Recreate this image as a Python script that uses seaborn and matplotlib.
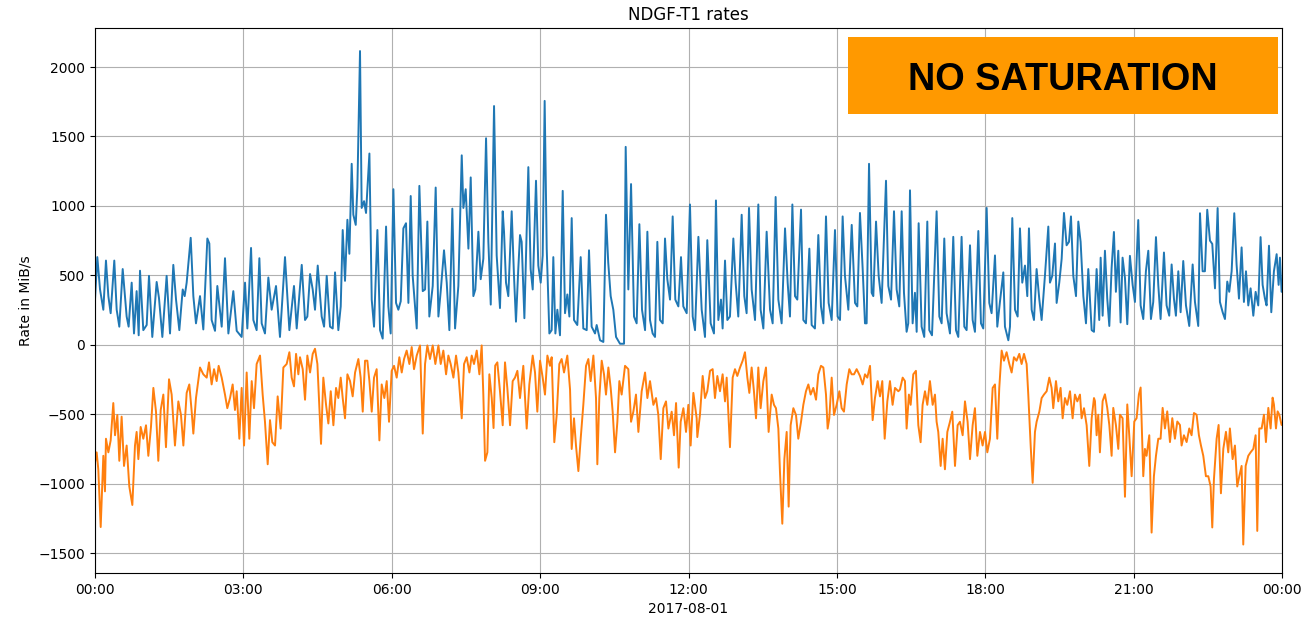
import numpy as np
import pandas as pd
import matplotlib
matplotlib.use("Agg")
import matplotlib.pyplot as plt
import matplotlib.dates as mdates
from matplotlib.patches import Rectangle
import seaborn as sns

# ---- data: (minutes after 2017-08-01 00:00, rate in MiB/s) ----
day_start = "2017-08-01 00:00"
title_text = "NDGF-T1 rates"
x_label = "2017-08-01"
y_label = "Rate in MiB/s"
badge_text = "NO SATURATION"
y_ticks = [-1500, -1000, -500, 0, 500, 1000, 1500, 2000]

blue_rates = [
    (0, 325), (2.8, 631), (6.1, 398), (10.1, 252), (13.3, 606), (16.2, 350), (19.0, 227), (23.4, 606),
    (26.3, 252), (29.5, 130), (33.6, 545), (38.4, 203), (40.8, 130), (44.5, 447), (47.3, 81), (50.5, 386),
    (53.0, 68), (54.6, 533), (58.6, 105), (62.7, 142), (65.5, 496), (69.5, 56), (74.8, 452), (77.6, 337),
    (81.7, 56), (86.9, 496), (91.0, 81), (95.0, 575), (98.3, 325), (102.3, 105), (106.4, 398), (108.8, 350),
    (111.2, 447), (116.1, 770), (119.3, 350), (122.5, 154), (127.4, 350), (131.4, 110), (136.3, 765),
    (138.7, 729), (141.5, 178), (145.6, 100), (148.4, 423), (153.7, 130), (157.7, 623), (161.8, 81),
    (167.8, 386), (171.9, 100), (177.9, 56), (182.0, 447), (184.8, 117), (189.3, 697), (192.1, 178),
    (196.1, 105), (199.4, 623), (202.2, 154), (206.2, 81), (210.3, 484), (214.3, 252), (219.6, 423),
    (224.4, 56), (230.5, 631), (235.8, 105), (241.4, 423), (244.7, 117),
    (250.8, 575), (254.8, 178), (257.6, 203), (260.9, 509), (264.1, 398), (266.9, 252), (270.2, 570),
    (275.0, 203), (277.9, 130), (281.1, 496), (285.1, 130), (288.4, 117), (291.2, 521), (295.2, 105),
    (298.1, 276), (300.5, 826), (303.3, 460), (306.2, 900), (308.6, 655), (311.4, 1303), (313.4, 936),
    (316.3, 863), (318.3, 1132), (321.5, 2115), (323.5, 985), (326.4, 1034), (328.8, 949), (330.8, 1157),
    (332.9, 1377), (335.7, 325), (338.5, 130), (342.6, 826), (345.8, 105), (349.0, 44), (353.1, 851),
    (355.9, 276), (358.7, 81), (362.0, 1120), (365.2, 301), (368.0, 252), (370.9, 313), (374.1, 838),
    (377.3, 875), (380.2, 301), (383.0, 1071), (385.4, 496), (390.3, 117), (393.5, 1144), (397.6, 386),
    (400.4, 398), (403.2, 887), (405.6, 203), (409.7, 423), (413.3, 1132), (416.6, 203), (419.4, 386),
    (423.4, 680), (426.7, 447), (429.9, 105), (433.5, 980), (436.8, 117), (440.8, 423), (444.9, 1364),
    (446.9, 985), (449.7, 1120), (453.0, 692), (455.8, 1205), (459.0, 350), (461.4, 398), (465.1, 814),
    (467.9, 472), (471.1, 619), (474.4, 1487), (477.2, 741), (480.1, 289), (484.1, 1719), (487.3, 643),
    (491.3, 264), (494.6, 961), (496.2, 814), (498.6, 447), (501.4, 350), (505.5, 961), (508.3, 496),
    (510.7, 166), (513.5, 545), (515.6, 790), (517.6, 741), (520.9, 191), (525.7, 1279), (528.5, 545),
    (531.0, 398), (535.0, 1181), (537.8, 570), (540.7, 447), (543.1, 643), (545.5, 1756), (548.0, 692),
    (551.2, 81), (554.0, 105), (556.0, 631), (558.5, 81), (560.9, 252), (564.1, 68), (567.4, 1108),
    (570.2, 227), (573.0, 362), (575.5, 203), (578.3, 912), (581.1, 178), (585.1, 142), (589.2, 631),
    (592.4, 117), (596.5, 105), (599.3, 680), (602.5, 130), (606.6, 81), (608.6, 142), (612.7, 32),
    (616.7, 20), (619.9, 936), (622.6, 594), (625.6, 350), (628.8, 252), (632.1, 56), (636.9, 7),
    (641.8, 7), (643.8, 1425), (647.0, 398), (650.3, 1157), (653.9, 203), (657.1, 154), (660.4, 868),
    (663.6, 252), (667.3, 105), (670.1, 814), (673.3, 178), (676.5, 81), (679.4, 56), (682.2, 741),
    (685.4, 178), (688.7, 154), (691.5, 765), (694.3, 472), (697.6, 325), (700.8, 924), (704.0, 325),
    (707.7, 276), (710.9, 631), (713.7, 276), (717.8, 227), (721.8, 1010), (725.1, 203), (727.9, 105),
    (732.0, 777),
    (736.0, 252), (740.0, 56), (742.8, 753), (746.9, 154), (750.9, 81), (753.3, 1039), (756.2, 178),
    (759.4, 325), (761.4, 117), (764.3, 606), (767.1, 178), (770.3, 203), (774.4, 765), (777.2, 447),
    (780.4, 203), (784.5, 936), (787.7, 350), (790.5, 227), (793.4, 985), (796.6, 398), (800.7, 178),
    (804.7, 1010), (807.5, 252), (810.8, 117), (814.8, 814), (818.9, 252), (822.1, 154), (825.7, 1064),
    (829.0, 325), (833.0, 154), (837.1, 838), (840.3, 447), (843.1, 203), (846.0, 1010), (849.2, 350),
    (852.0, 325), (856.5, 973), (859.3, 178), (862.5, 154), (866.6, 692), (869.4, 142), (873.4, 117),
    (877.5, 790), (880.7, 276), (883.6, 154), (886.8, 924), (890.0, 301), (893.7, 178), (897.7, 826),
    (900.9, 203), (903.8, 178), (907.0, 924), (909.8, 496), (913.9, 252), (918.0, 863), (922.0, 301),
    (924.8, 276), (928.0, 949), (931.3, 545), (934.1, 154), (936.1, 154), (939.0, 1303), (942.2, 374),
    (944.2, 350), (947.5, 887), (950.7, 496), (954.3, 301), (959.6, 1181), (962.4, 423), (965.7, 325),
    (969.3, 961), (972.5, 398),
    (975.7, 276), (978.6, 961), (981.4, 374), (984.6, 93), (986.6, 154), (988.7, 1112), (991.9, 154),
    (994.7, 374), (996.8, 93), (999.2, 875), (1002.8, 130), (1006.0, 56), (1009.7, 887), (1012.1, 105),
    (1015.4, 68), (1021.0, 961), (1024.3, 203), (1027.1, 154), (1030.3, 765), (1033.1, 227), (1037.2, 81),
    (1041.2, 777), (1044.5, 105), (1047.3, 56), (1051.3, 777), (1054.6, 130), (1057.4, 105), (1061.5, 716),
    (1064.7, 178), (1067.5, 93), (1071.6, 819), (1074.8, 154), (1077.6, 117), (1081.7, 985), (1084.9, 301),
    (1087.7, 227), (1091.8, 643), (1094.6, 130), (1097.9, 313), (1101.9, 521), (1103.9, 130), (1108.0, 32),
    (1110.0, 130), (1112.8, 912), (1116.1, 252), (1119.3, 203), (1122.1, 838), (1124.9, 447), (1128.2, 570),
    (1131.0, 350), (1133.0, 838), (1136.3, 252), (1139.1, 178), (1142.3, 545), (1145.6, 325), (1148.4, 178),
    (1152.4, 496), (1156.5, 851), (1158.5, 447), (1161.3, 496), (1164.6, 729), (1166.6, 301), (1169.8, 447),
    (1172.7, 619), (1175.5, 949), (1178.7, 716), (1181.6, 741), (1184.0, 924), (1186.8, 496), (1190.1, 350),
    (1192.9, 887), (1195.7, 741), (1199.0, 350), (1202.2, 154), (1205.0, 545), (1209.1, 105), (1211.9, 93),
    (1215.1, 545), (1218.3, 178),
    (1220.0, 627), (1222.4, 209), (1225.2, 677), (1228.0, 332), (1230.5, 135), (1233.3, 554), (1236.1, 812),
    (1238.5, 381), (1241.4, 677), (1244.2, 160), (1246.6, 627), (1249.5, 480), (1252.3, 148), (1255.5, 640),
    (1258.8, 431), (1261.6, 308), (1265.6, 898), (1268.5, 283), (1271.7, 185), (1274.9, 529), (1277.8, 677),
    (1281.0, 185), (1283.8, 308), (1287.1, 775), (1289.9, 431), (1292.7, 185), (1296.8, 664), (1300.0, 283),
    (1303.2, 209), (1306.1, 578), (1308.9, 332), (1311.3, 209), (1314.2, 529), (1317.0, 234), (1320.2, 603),
    (1323.5, 283), (1327.5, 135), (1331.6, 578), (1334.4, 308), (1338.4, 135), (1340.5, 947), (1343.7, 529),
    (1346.5, 529), (1349.3, 972), (1352.6, 750), (1355.4, 726), (1358.7, 406), (1361.9, 984), (1364.7, 308),
    (1368.0, 234), (1370.8, 185), (1373.6, 455), (1376.0, 381), (1378.9, 529), (1382.1, 947), (1384.9, 578),
    (1387.8, 332), (1391.0, 701), (1393.8, 308), (1396.3, 529), (1399.1, 283), (1401.9, 406), (1405.2, 209),
    (1408.0, 381), (1411.2, 283), (1414.0, 775), (1416.5, 431), (1419.3, 332), (1421.3, 283), (1424.2, 713),
    (1427.0, 234), (1430.2, 529), (1433.5, 652), (1435.9, 431), (1437.5, 627), (1439.5, 381),
]

orange_rates = [
    (0, -848), (2.0, -775), (4.0, -897), (6.9, -1313), (10.1, -800), (12.1, -1056), (13.3, -677),
    (16.2, -775), (19.0, -689), (22.2, -420), (24.3, -652), (27.1, -506), (29.5, -836), (32.3, -518),
    (35.2, -873), (38.4, -726), (41.6, -1020), (45.3, -1154), (48.5, -726), (50.5, -628), (52.6, -824),
    (55.4, -592), (58.6, -677), (61.9, -580), (64.7, -800), (67.9, -592), (70.8, -311), (74.0, -482),
    (76.8, -836), (79.7, -470), (82.9, -359), (86.1, -738), (89.8, -249), (93.0, -359), (97.0, -726),
    (101.1, -408), (104.3, -506), (107.2, -726), (111.2, -347), (114.4, -286), (117.3, -482), (119.3, -640),
    (122.5, -384), (127.4, -164), (131.4, -213), (135.5, -237), (138.3, -127), (141.5, -286), (144.4, -176),
    (147.6, -262), (150.0, -152), (153.7, -237), (157.7, -359), (160.5, -457), (163.8, -384), (167.0, -286),
    (169.8, -470), (171.9, -335), (175.1, -677), (177.9, -311), (180.8, -726), (184.0, -200), (187.2, -677),
    (190.1, -262), (192.9, -457), (196.1, -139), (200.2, -78), (203.4, -359), (206.2, -555), (209.5, -861),
    (212.3, -543), (215.1, -702), (218.4, -726), (221.6, -372), (225.2, -604), (228.5, -164), (232.5, -139),
    (235.8, -54), (238.6, -237), (241.4, -300),
    (243.9, -66), (246.7, -213), (248.7, -90), (252.0, -176), (254.8, -396), (257.6, -78), (260.9, -200),
    (264.1, -66), (266.9, -29), (269.8, -139), (272.2, -457), (274.2, -714), (277.0, -237), (280.3, -433),
    (283.1, -567), (286.0, -335), (289.2, -580), (292.4, -311), (295.2, -384), (298.1, -237), (300.5, -384),
    (303.3, -530), (306.2, -213), (309.4, -262), (312.6, -372), (315.5, -200), (319.5, -103), (322.3, -237),
    (324.8, -482), (327.6, -115), (330.4, -115), (332.9, -262), (335.7, -482), (338.5, -237), (341.7, -176),
    (345.0, -689), (347.8, -286), (351.0, -384), (353.9, -262), (356.7, -555), (359.9, -188), (362.8, -152),
    (366.0, -237), (369.2, -90), (372.1, -200), (374.9, -103), (378.1, -42), (381.4, -139), (384.2, -17),
    (387.0, -176), (390.3, -78), (394.3, -5), (397.6, -640), (400.4, -139), (403.2, -5), (406.4, -103),
    (409.7, -5), (412.9, -139), (416.6, -5), (419.4, -139), (422.6, -42), (425.9, -213), (428.7, -78),
    (431.5, -139), (434.8, -237), (438.0, -78), (440.8, -200), (444.9, -530), (447.7, -139), (450.9, -90),
    (454.2, -200), (457.0, -78), (459.8, -139), (463.1, -42), (466.3, -213), (469.1, -5), (471.1, -359),
    (473.2, -836), (476.0, -775), (478.4, -213), (481.3, -384), (483.5, -600), (485.5, -150),
    (488.1, -127), (491.3, -335), (494.6, -580), (497.4, -127), (500.2, -311), (503.5, -580), (506.7, -262),
    (509.5, -237), (512.4, -188), (515.6, -384), (519.6, -152), (523.7, -604), (526.9, -286), (531.0, -78),
    (533.8, -200), (536.6, -482), (539.9, -115), (543.1, -237), (545.9, -359), (548.8, -78), (552.0, -152),
    (554.0, -90), (557.2, -702), (560.1, -506), (563.3, -139), (566.1, -103), (569.0, -200), (573.0, -78),
    (576.3, -323), (578.3, -751), (581.1, -530), (583.5, -726), (586.4, -910), (589.2, -677), (592.4, -433),
    (595.7, -152), (598.5, -103), (601.3, -262), (604.6, -78), (607.8, -384), (609.4, -861), (611.8, -384),
    (614.7, -115), (617.5, -213), (619.9, -359), (622.8, -164), (625.6, -311), (628.0, -482), (630.9, -775),
    (633.7, -555), (636.1, -262), (638.9, -359), (643.0, -152), (647.0, -176), (650.3, -555), (653.1, -482),
    (656.3, -359), (659.2, -628), (663.2, -335), (667.3, -200), (670.1, -384), (673.3, -262), (677.4, -433),
    (680.6, -384), (683.4, -506), (686.3, -824), (689.5, -457), (692.7, -408), (695.6, -604), (699.6, -482),
    (702.4, -652), (704.9, -420), (708.1, -885), (710.5, -555), (713.8, -457), (717.0, -628), (719.8, -433),
    (722.6, -726), (725.9, -347), (729.9, -530),
    (730.7, -665), (733.9, -506), (737.2, -225), (740.0, -384), (742.8, -335), (746.1, -188), (749.3, -176),
    (752.1, -384), (755.0, -225), (758.2, -335), (761.4, -213), (764.3, -408), (766.3, -237), (770.3, -738),
    (773.6, -237), (776.4, -176), (779.2, -225), (782.5, -164), (785.7, -115), (788.5, -54), (791.4, -237),
    (793.8, -347), (796.6, -164), (799.4, -335), (801.9, -530), (804.7, -164), (807.5, -457), (810.8, -262),
    (814.0, -164), (817.2, -628), (820.9, -359), (823.7, -433), (826.1, -457), (829.0, -604), (831.0, -922),
    (833.8, -1289), (836.3, -824), (839.1, -628), (841.5, -1166), (843.9, -580), (847.2, -457), (850.4, -506),
    (853.2, -677), (856.5, -555), (859.3, -433), (862.5, -335), (865.4, -286), (868.2, -359), (871.4, -311),
    (874.7, -396), (877.5, -213), (880.7, -152), (883.6, -164), (886.8, -359), (888.8, -604), (890.8, -530),
    (893.7, -237), (896.5, -506), (899.7, -433), (903.0, -335), (905.8, -457), (908.6, -482), (911.9, -286),
    (915.1, -176), (917.9, -213), (920.8, -213), (924.0, -176), (928.0, -225), (931.3, -286), (934.1, -213),
    (936.9, -237), (940.2, -152), (943.4, -543), (946.2, -384), (949.5, -262), (952.3, -372), (955.1, -262),
    (958.0, -677), (961.2, -408), (964.4, -262), (967.6, -433), (970.5, -311), (974.6, -335),
    (976.5, -323), (979.8, -237), (982.6, -262), (984.6, -604), (987.4, -359), (989.5, -433), (992.7, -213),
    (995.9, -188), (998.8, -580), (1001.6, -702), (1004.0, -433), (1006.9, -335), (1009.7, -433),
    (1012.9, -262), (1016.2, -433), (1019.0, -359), (1021.0, -555), (1023.0, -628), (1025.9, -873),
    (1028.3, -677), (1031.1, -897), (1034.0, -628), (1037.2, -555), (1040.0, -482), (1043.3, -873),
    (1046.5, -580), (1049.3, -555), (1052.6, -652), (1055.4, -408), (1058.6, -555), (1061.5, -824),
    (1064.7, -580), (1067.5, -457), (1070.4, -800), (1073.6, -628), (1076.8, -726), (1079.7, -628),
    (1082.5, -775), (1085.7, -677), (1089.0, -311), (1091.8, -286), (1094.6, -677), (1097.0, -311),
    (1099.9, -42), (1102.7, -115), (1105.9, -54), (1109.2, -139), (1112.0, -200), (1114.8, -90),
    (1118.0, -115), (1121.3, -66), (1124.1, -139), (1127.0, -66), (1130.2, -139), (1132.2, -359),
    (1135.1, -726), (1137.5, -995), (1140.3, -628), (1142.3, -555), (1145.6, -482), (1148.4, -384),
    (1151.2, -359), (1154.5, -335), (1157.7, -237), (1160.5, -311), (1162.5, -457), (1165.8, -262),
    (1168.6, -408), (1171.4, -311), (1173.9, -530), (1176.7, -384), (1179.5, -433), (1182.8, -335),
    (1186.0, -530), (1188.8, -359), (1191.7, -408), (1194.9, -359), (1196.9, -530), (1199.8, -457),
    (1203.0, -580), (1206.2, -873), (1209.1, -530), (1211.9, -384),
    (1213.1, -406), (1215.1, -652), (1217.1, -504), (1219.1, -775), (1222.4, -406), (1225.2, -357),
    (1228.0, -455), (1230.5, -578), (1233.3, -800), (1235.3, -455), (1238.5, -578), (1241.4, -750),
    (1243.4, -504), (1246.6, -529), (1249.5, -1095), (1252.3, -430), (1254.7, -652), (1257.6, -947),
    (1260.8, -553), (1263.6, -529), (1266.4, -357), (1268.5, -308), (1271.7, -947), (1273.7, -750),
    (1275.7, -800), (1279.0, -652), (1281.8, -1353), (1284.6, -947), (1287.1, -800), (1289.9, -677),
    (1292.7, -677), (1295.2, -455), (1298.0, -603), (1300.8, -480), (1304.1, -701), (1306.9, -529),
    (1310.1, -677), (1313.0, -553), (1316.2, -578), (1318.2, -726), (1321.0, -652), (1324.3, -701),
    (1327.5, -603), (1330.3, -652), (1333.2, -492), (1336.4, -504), (1339.2, -652), (1341.7, -726),
    (1344.5, -800), (1347.7, -947), (1350.6, -947), (1353.4, -1021), (1355.4, -1316), (1357.4, -972),
    (1360.7, -677), (1363.1, -578), (1365.9, -1070), (1368.8, -750), (1372.0, -627), (1374.8, -775),
    (1376.8, -603), (1380.1, -824), (1382.9, -726), (1385.7, -1021), (1388.2, -947), (1391.0, -873),
    (1393.0, -1439), (1395.9, -873), (1399.1, -800), (1401.9, -775), (1405.2, -750), (1408.0, -652),
    (1410.0, -1341), (1412.4, -603), (1415.3, -603), (1418.1, -504), (1420.5, -701), (1423.4, -455),
    (1426.2, -603), (1428.6, -381), (1430.2, -430), (1432.7, -603), (1434.7, -480), (1436.7, -504),
    (1439.5, -578),
]

# ---- build frames ----
base = pd.Timestamp(day_start)


def to_frame(pairs):
    arr = np.array(pairs, dtype=float)
    return pd.DataFrame({"time": base + pd.to_timedelta(arr[:, 0], unit="m"),
                         "rate": arr[:, 1]})


df_blue = to_frame(blue_rates)
df_orange = to_frame(orange_rates)

sns.set_theme(style="ticks", rc={
    "axes.grid": True, "grid.color": "#b0b0b0", "grid.linewidth": 0.8,
    "axes.edgecolor": "black", "axes.linewidth": 0.8,
    "xtick.major.size": 3.5, "ytick.major.size": 3.5,
    "xtick.major.width": 0.8, "ytick.major.width": 0.8,
    "xtick.direction": "out", "ytick.direction": "out",
})
plt.rcParams["font.family"] = ["DejaVu Sans"]

W, H = 1307, 620
fig = plt.figure(figsize=(W / 100, H / 100), dpi=100)
ax = fig.add_axes([95 / W, 1 - 573 / H, (1282 - 95) / W, (573 - 28) / H])

sns.lineplot(data=df_blue, x="time", y="rate", ax=ax, color="#1f77b4",
             linewidth=1.4, legend=False, estimator=None, sort=False)
sns.lineplot(data=df_orange, x="time", y="rate", ax=ax, color="#ff7f0e",
             linewidth=1.4, legend=False, estimator=None, sort=False)

ax.set_xlim(base, base + pd.Timedelta(days=1))
ax.set_ylim(-1644, 2281)
ax.set_yticks(y_ticks)
ax.xaxis.set_major_locator(mdates.HourLocator(byhour=range(0, 24, 3)))
ax.xaxis.set_major_formatter(mdates.DateFormatter("%H:%M"))
ax.tick_params(labelsize=10, colors="black")
ax.set_xlabel(x_label, fontsize=10, color="black")
ax.set_ylabel(y_label, fontsize=10, color="black")
ax.set_title(title_text, fontsize=12, color="black")
for s in ax.spines.values():
    s.set_visible(True)
    s.set_color("black")

# orange badge
fig.patches.append(Rectangle((848 / W, 1 - 114.3 / H), (1278 - 848) / W, (114.3 - 36.7) / H,
                             transform=fig.transFigure, facecolor="#ff9900",
                             edgecolor="none", zorder=10))
fig.text(1062.5 / W, 1 - 90 / H, badge_text, ha="center", va="baseline",
         fontsize=27.3, fontweight="bold", family=["Liberation Sans", "DejaVu Sans"],
         color="black", zorder=11)

fig.savefig("out.png", dpi=100)
